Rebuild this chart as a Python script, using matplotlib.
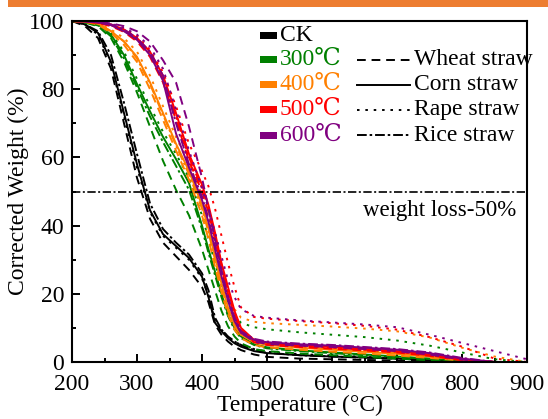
import matplotlib
matplotlib.use("Agg")
import matplotlib.pyplot as plt
from matplotlib.patches import Rectangle

plt.rcParams['font.family'] = ['Liberation Serif', 'DejaVu Serif', 'Noto Sans CJK SC']
plt.rcParams['mathtext.fontset'] = 'stix'

# ---------------- data ----------------
temperature = [200, 220, 240, 260, 280, 300, 320, 340, 360, 380, 400, 410, 420, 430,
               440, 450, 460, 480, 500, 550, 600, 650, 700, 750, 800, 850, 900]

treatments = ['CK', '300℃', '400℃', '500℃', '600℃']
treatment_colors = ['#000000', '#008000', '#FF8000', '#FF0000', '#800080']
straws = ['Wheat straw', 'Corn straw', 'Rape straw', 'Rice straw']

# CK
ck_wheat = [100, 98.5, 95, 86, 70, 54, 42, 35, 31, 27, 22, 17.5, 11, 8, 6, 4.5, 3.5, 2.2, 1.5, 1, 0.8, 0.6, 0.4, 0.2, 0, 0, 0]
ck_corn = [100, 99, 96.5, 88, 73, 58, 44.5, 37.5, 34, 30.5, 25, 19, 11.5, 9, 7, 5.5, 4.5, 3.2, 2.6, 2, 1.6, 1.3, 1, 0.6, 0.2, 0, 0]
ck_rape = [100, 99, 96, 87.5, 72, 57, 44, 37, 33.5, 30, 24.5, 19.5, 12, 9.5, 7.5, 6, 5, 3.8, 3, 2.3, 1.9, 1.5, 1.1, 0.6, 0.2, 0, 0]
ck_rice = [100, 99, 97, 90, 76, 61, 46.5, 39, 35, 31.5, 26, 21, 13, 9.5, 7.5, 6, 5, 3.5, 2.7, 2, 1.6, 1.3, 1, 0.6, 0.2, 0, 0]

# 300 C
t300_wheat = [100, 99.5, 98.5, 95, 88, 79, 69, 59, 50.5, 43, 33, 27, 21, 15, 10.5, 7.5, 5.5, 3.8, 3.2, 2.5, 2, 1.5, 1, 0.5, 0, 0, 0]
t300_corn = [100, 99.7, 99, 96, 90, 81.5, 73.5, 66, 59.5, 52.5, 40, 33, 26.5, 20, 14, 10, 7.5, 5.2, 4.3, 3.4, 2.8, 2.2, 1.6, 1, 0.3, 0, 0]
t300_rape = [100, 99.7, 99, 96.5, 91, 83, 75, 67.5, 61, 54, 43, 36, 29, 22.5, 17, 13.5, 11.5, 10.2, 9.6, 8.7, 8, 7.3, 6.3, 4.8, 2.8, 0.8, 0]
t300_rice = [100, 99.5, 98.7, 95.5, 89, 80.5, 72, 64.5, 57.5, 50.5, 39, 32, 25.5, 19, 13.5, 9.5, 7, 5, 4, 3.2, 2.6, 2, 1.5, 0.9, 0.2, 0, 0]

# 400 C
t400_wheat = [100, 99.7, 99, 96.5, 93, 88, 80, 71, 62, 53.5, 43, 36, 28, 20.5, 14, 9.5, 7, 5, 4.3, 3.6, 3, 2.5, 1.9, 1.2, 0.4, 0, 0]
t400_corn = [100, 99.8, 99.3, 97, 94, 89.5, 82, 73, 64, 56, 46, 39, 31, 23, 16, 11, 8, 5.8, 5, 4.2, 3.6, 3, 2.4, 1.6, 0.6, 0, 0]
t400_rape = [100, 99.8, 99.3, 97.5, 95, 91, 84, 75, 66, 58, 49, 43, 35, 27, 20, 15.5, 13, 11.8, 11.4, 10.9, 10.4, 9.8, 9, 7.2, 4.2, 1.6, 0]
t400_rice = [100, 99.8, 99.2, 97, 94, 89, 81.5, 72.5, 63.5, 55, 45, 38, 30, 22, 15, 10.5, 8, 6, 5.2, 4.4, 3.8, 3.2, 2.6, 1.8, 0.7, 0, 0]

# 500 C
t500_wheat = [100, 99.8, 99.4, 98.5, 96.8, 94, 89.5, 82, 71, 59, 50, 44, 36, 27.5, 20, 13.5, 9, 5.8, 5, 4.4, 3.9, 3.4, 2.8, 1.8, 0.5, 0, 0]
t500_corn = [100, 99.9, 99.6, 99, 97.5, 95, 91, 84, 73, 61, 52, 46, 38, 29, 22, 15, 10, 6.5, 5.6, 4.9, 4.4, 3.8, 3.2, 2.2, 0.8, 0, 0]
t500_rape = [100, 99.9, 99.6, 99, 97.8, 95.5, 91.5, 85, 75, 64, 56, 51.5, 45, 37, 29, 22, 16, 13.2, 12.7, 12, 11.4, 10.6, 9.5, 7.3, 4.5, 1, 0]
t500_rice = [100, 99.9, 99.5, 98.8, 97.2, 94.5, 90.5, 83, 72, 60, 51, 45, 37, 28.5, 21, 14.5, 9.5, 6.3, 5.4, 4.7, 4.2, 3.6, 3, 2, 0.6, 0, 0]

# 600 C
t600_wheat = [100, 99.9, 99.7, 99.3, 98.5, 97, 94, 88.5, 82, 69, 54, 45, 36, 27, 19, 12.5, 8.5, 6, 5.3, 4.8, 4.4, 3.8, 3.2, 2.2, 0.7, 0, 0]
t600_corn = [100, 99.9, 99.6, 98.8, 97, 94.5, 90, 82.5, 67, 57, 47.5, 41, 33, 25, 18, 12, 8.5, 6.5, 5.8, 5.2, 4.8, 4.2, 3.6, 2.6, 1, 0, 0]
t600_rape = [100, 99.9, 99.7, 99.2, 98, 96, 92.5, 86, 74, 62, 51, 45, 38, 31, 24, 19, 15.5, 13.5, 13, 12.2, 11.6, 11, 10.2, 8, 5.6, 3.2, 0.8]
t600_rice = [100, 99.9, 99.6, 99, 97.5, 95, 91, 84, 70, 58, 48.5, 42, 34, 26, 19, 13, 9, 6.8, 6, 5.4, 5, 4.4, 3.8, 2.8, 1.2, 0, 0]

series = [
    [ck_wheat, ck_corn, ck_rape, ck_rice],
    [t300_wheat, t300_corn, t300_rape, t300_rice],
    [t400_wheat, t400_corn, t400_rape, t400_rice],
    [t500_wheat, t500_corn, t500_rape, t500_rice],
    [t600_wheat, t600_corn, t600_rape, t600_rice],
]

xticks = [200, 300, 400, 500, 600, 700, 800, 900]
yticks = [0, 20, 40, 60, 80, 100]
threshold = 50

# ---------------- styles ----------------
straw_styles = [(0, (4.5, 3)), '-', (0, (1.3, 3)), (0, (5, 1.5, 1.3, 1.5))]

W, H = 548, 419
fig = plt.figure(figsize=(W / 100, H / 100), dpi=100)
L, R, T, B = 72, 527, 21, 362
ax = fig.add_axes([L / W, 1 - B / H, (R - L) / W, (B - T) / H])

# orange bar at top
fig.patches.append(Rectangle((8 / W, 1 - 7 / H), 1, 7 / H, transform=fig.transFigure,
                             facecolor='#ED7D31', edgecolor='none'))

for tcolor, group in zip(treatment_colors, series):
    for ls, vals in zip(straw_styles, group):
        ax.plot(temperature, vals, color=tcolor, linestyle=ls, lw=1.4)

ax.axhline(threshold, color='black', lw=1.2, linestyle=(0, (5, 1.5, 1.2, 1.5)))
ax.text(766, 44.5, 'weight loss-50%', fontsize=16.5, ha='center', va='center')

ax.set_xlim(200, 900)
ax.set_ylim(0, 100)
ax.set_xticks(xticks)
ax.set_yticks(yticks)
ax.set_xticks([250, 350, 450, 550, 650, 750, 850], minor=True)
ax.set_yticks([10, 30, 50, 70, 90], minor=True)
ax.tick_params(which='both', direction='in', labelsize=17, top=False, right=False, width=1.4)
ax.tick_params(which='major', length=5.5)
ax.tick_params(which='minor', length=2.6)
ax.tick_params(axis='x', pad=8.5)
ax.tick_params(axis='y', pad=5.5)
for s in ax.spines.values():
    s.set_linewidth(1.5)

ax.set_xlabel('Temperature (°C)', fontsize=17, labelpad=0)
ax.set_ylabel('Corrected Weight (%)', fontsize=17, labelpad=0)

# ---------------- legend (manual) ----------------
def axc(px, py):
    return ((px - L) / (R - L), (B - py) / (B - T))

row_y = [35, 59.5, 84.5, 109.5, 135]
for i, (lab, col) in enumerate(zip(treatments, treatment_colors)):
    x0, y0 = axc(260, row_y[i] + 3.5)
    x1, y1 = axc(277, row_y[i] - 3.5)
    ax.add_patch(Rectangle((x0, y0), x1 - x0, y1 - y0, transform=ax.transAxes,
                           facecolor=col, edgecolor='none'))
    tx, ty = axc(280, row_y[i])
    ax.text(tx, ty, lab, color=col, fontsize=17, ha='left', va='center',
            transform=ax.transAxes)

for i, (lab, ls) in enumerate(zip(straws, straw_styles)):
    yy = row_y[i + 1]
    xa, ya = axc(357, yy)
    xb, _ = axc(410, yy)
    ax.plot([xa, xb], [ya, ya], color='black', linestyle=ls, lw=1.4, transform=ax.transAxes)
    tx, ty = axc(414, yy)
    ax.text(tx, ty, lab, color='black', fontsize=17, ha='left', va='center',
            transform=ax.transAxes)

fig.savefig('out.png', dpi=100)
